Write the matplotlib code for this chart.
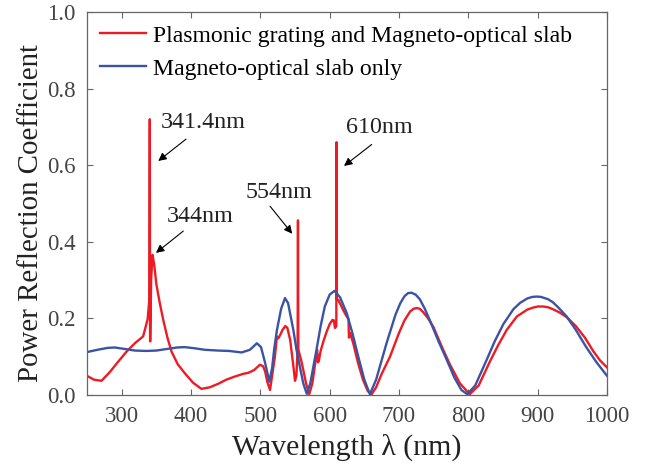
import matplotlib
matplotlib.use('Agg')
import matplotlib.pyplot as plt

plt.rcParams['font.family'] = ['Liberation Serif', 'DejaVu Serif']

# red: plasmonic grating + magneto-optical slab
wl_red = [250, 260, 271, 283, 295, 307, 319, 331, 337.5, 340.0, 340.6, 341.0, 341.3, 342.5,
          344.5, 347, 350, 355, 360, 366, 372, 381, 391, 403, 415, 427, 439, 451, 463, 475,
          483, 491, 499.5, 504, 507, 510, 514, 517, 521, 524, 526, 529, 532, 536, 539, 543,
          546, 548, 550, 552, 553.8, 554.3, 554.8, 556, 559, 562, 566, 570.5, 575, 579, 582,
          583.2, 584.5, 587, 591, 595.6, 600, 604, 606, 607.7, 609.6, 610.0, 610.4, 612.5,
          616, 620, 624.6, 627.2, 627.8, 629.5, 634, 641, 648, 655, 660.5, 667, 675, 687,
          700, 708, 716, 721, 725.5, 730, 735, 742, 749.5, 762, 773.6, 788, 802, 815, 831,
          843, 855.4, 870, 885, 893, 900, 908, 915, 922, 932, 942, 955, 968, 980, 990, 1000]
r_red = [0.05, 0.04, 0.037, 0.06, 0.087, 0.113, 0.135, 0.153, 0.198, 0.25, 0.72, 0.14, 0.14, 0.3,
         0.366, 0.34, 0.29, 0.24, 0.196, 0.15, 0.113, 0.08, 0.057, 0.032, 0.016, 0.02, 0.029,
         0.04, 0.048, 0.055, 0.058, 0.065, 0.079, 0.075, 0.061, 0.035, 0.013, 0.05, 0.10,
         0.153, 0.148, 0.158, 0.17, 0.18, 0.175, 0.144, 0.1, 0.07, 0.037, 0.05, 0.12, 0.456,
         0.12, 0.11, 0.09, 0.065, 0.03, 0.002, 0.03, 0.08, 0.118, 0.085, 0.09, 0.115, 0.14,
         0.165, 0.185, 0.196, 0.195, 0.175, 0.18, 0.66, 0.25, 0.248, 0.235, 0.22, 0.205,
         0.198, 0.15, 0.162, 0.135, 0.083, 0.04, 0.01, 0.002, 0.02, 0.055, 0.1, 0.162, 0.195,
         0.218, 0.225, 0.227, 0.225, 0.216, 0.2, 0.178, 0.125, 0.079, 0.03, 0.002, 0.025,
         0.087, 0.13, 0.17, 0.205, 0.223, 0.228, 0.231, 0.231, 0.229, 0.224, 0.215, 0.203,
         0.18, 0.15, 0.115, 0.09, 0.072]

# blue: magneto-optical slab only
wl_blue = [250, 265, 280, 290, 305, 319, 335, 350, 365, 380, 391, 405, 420, 439, 455, 473, 485,
           495, 501, 507, 513, 517, 520, 524, 530, 535.6, 540, 547.6, 552, 557, 562, 567, 572,
           581, 587, 593, 600, 607, 615, 624.6, 633, 641.3, 650, 658, 667, 682, 695, 702, 708,
           713, 718, 724, 730, 737, 744.7, 757, 768.8, 780, 790, 798.5, 810, 826.5, 838, 850.5,
           865, 875, 885, 892, 898.6, 905, 915, 922, 930, 941.8, 955, 970, 985, 1000]
r_blue = [0.112, 0.118, 0.123, 0.124, 0.12, 0.116, 0.115, 0.116, 0.12, 0.124, 0.125, 0.122,
          0.118, 0.116, 0.115, 0.111, 0.118, 0.135, 0.125, 0.083, 0.035, 0.07, 0.12, 0.17,
          0.225, 0.253, 0.24, 0.17, 0.12, 0.074, 0.03, 0.003, 0.03, 0.118, 0.18, 0.231, 0.262,
          0.272, 0.255, 0.214, 0.16, 0.1, 0.04, 0.002, 0.04, 0.135, 0.21, 0.24, 0.258, 0.266,
          0.267, 0.262, 0.25, 0.226, 0.194, 0.14, 0.092, 0.045, 0.013, 0.002, 0.025, 0.092,
          0.14, 0.185, 0.224, 0.241, 0.252, 0.256, 0.257, 0.256, 0.25, 0.242, 0.228, 0.205,
          0.17, 0.125, 0.085, 0.05]

labels = ['Plasmonic grating and Magneto-optical slab', 'Magneto-optical slab only']

# annotation text: (label, text x, text y, arrow head x, head y, tail x, tail y)
notes = [
    ('341.4nm', 357, 0.711, 352.8, 0.611, 392.8, 0.668),
    ('344nm', 365, 0.467, 349.5, 0.371, 388.9, 0.428),
    ('554nm', 478, 0.528, 546, 0.421, 514, 0.493),
    ('610nm', 624, 0.698, 620.7, 0.598, 660.6, 0.654),
]

fig = plt.figure(figsize=(6.52, 4.71), dpi=100)
ax = fig.add_axes([0.1334, 0.1614, 0.7976, 0.8131])

ax.plot(wl_red, r_red, color='#ED1C24', lw=1.7, label=labels[0])
ax.plot(wl_blue, r_blue, color='#3A53A4', lw=1.7, label=labels[1])

for txt, tx, ty, hx, hy, sx, sy in notes:
    ax.text(tx, ty, txt, fontsize=17.3, va='center', ha='left', color='#222222')
    ax.annotate('', xy=(hx, hy), xytext=(sx, sy),
                arrowprops=dict(arrowstyle='-|>', color='black', lw=0.8,
                                mutation_scale=12, shrinkA=0, shrinkB=0))

ax.set_xlim(250, 1000)
ax.set_ylim(0, 1)
ax.set_xticks([300, 400, 500, 600, 700, 800, 900, 1000])
ax.set_yticks([0, 0.2, 0.4, 0.6, 0.8, 1.0])
ax.set_yticklabels(['0.0', '0.2', '0.4', '0.6', '0.8', '1.0'])
ax.tick_params(direction='in', top=True, right=True, length=4, width=0.8,
               color='#666666', labelsize=16.5, labelcolor='#444444', pad=8)
for s in ax.spines.values():
    s.set_color('#666666')
    s.set_linewidth(0.9)

ax.set_xlabel('Wavelength λ (nm)', fontsize=21.5, color='#222222', labelpad=5)
ax.set_ylabel('Power Reflection Coefficient', fontsize=20.8, color='#222222')
ax.yaxis.set_label_coords(-0.083, 0.475)

ax.legend(loc='upper left', frameon=False, fontsize=17.1, handlelength=1.95,
          handletextpad=0.3, borderaxespad=0.3, labelspacing=0.48, borderpad=0.25)

fig.savefig('out.png', dpi=100)
